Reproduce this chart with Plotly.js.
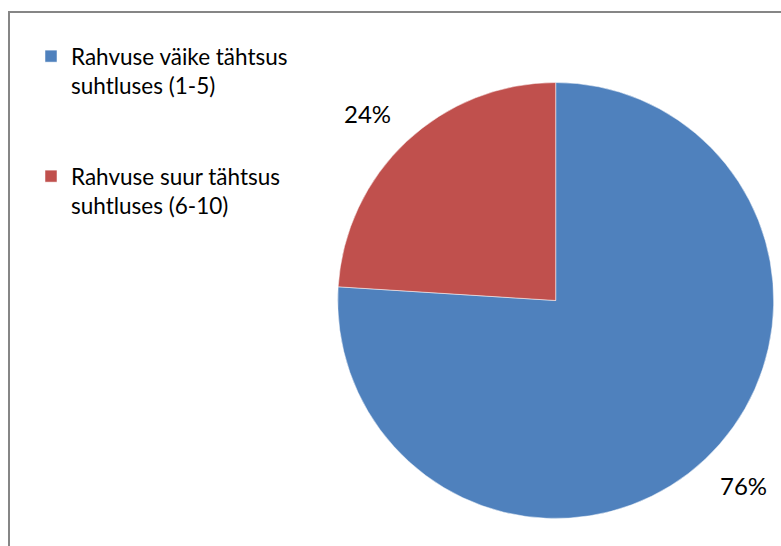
<!DOCTYPE html>
<html>
<head>
<meta charset="utf-8">
<script src="https://cdn.plot.ly/plotly-3.0.1.min.js"></script>
<style>html,body{margin:0;padding:0;background:#fff;}#chart{width:781px;height:546px;}</style>
</head>
<body>
<div id="chart"></div>
<script>
var categories = ["Rahvuse väike tähtsus<br>suhtluses (1-5)<br> <br> ", "Rahvuse suur tähtsus<br>suhtluses (6-10)"];
var values = [76, 24];
var colors = ["#4F81BD", "#C0504D"];

var W = 781, H = 546;
var dom = {x: [337.7 / W, 773.7 / W], y: [1 - 519 / H, 1 - 82 / H]};
var cx = (dom.x[0] + dom.x[1]) / 2 * W;
var cy = (1 - (dom.y[0] + dom.y[1]) / 2) * H;
var R = (dom.x[1] - dom.x[0]) * W / 2;

var total = values.reduce(function (a, b) { return a + b; }, 0);
var annotations = [];
var cum = 0;
var labelAngleOffset = -2.1 * Math.PI / 180;
for (var i = 0; i < values.length; i++) {
  var mid = (cum + values[i] / 2) / total * 2 * Math.PI + labelAngleOffset; // clockwise from 12 o'clock
  cum += values[i];
  var px = cx + 1.215 * R * Math.sin(mid);
  var py = cy - 1.215 * R * Math.cos(mid);
  annotations.push({
    xref: 'paper', yref: 'paper', x: px / W, y: 1 - py / H,
    xanchor: 'center', yanchor: 'middle', showarrow: false, yshift: 1,
    text: Math.round(values[i] / total * 100) + '%',
    font: {family: 'Lato, Arial, sans-serif', size: 24, color: '#000'}
  });
}

var trace = {
  type: 'pie',
  labels: categories,
  values: values,
  sort: false,
  direction: 'clockwise',
  rotation: 0,
  textinfo: 'none',
  hoverinfo: 'label+percent',
  marker: {colors: colors, line: {color: '#ffffff', width: 0.5}},
  domain: dom
};

var layout = {
  width: W, height: H,
  margin: {l: 0, r: 0, t: 0, b: 0},
  paper_bgcolor: '#ffffff',
  showlegend: true,
  legend: {
    x: 31 / W, y: 1 - 35 / H, xanchor: 'left', yanchor: 'top',
    valign: 'top',
    font: {family: 'Lato, Arial, sans-serif', size: 22.5, color: '#000'},
    bgcolor: 'rgba(0,0,0,0)'
  },
  annotations: annotations,
  shapes: [{
    type: 'path', xref: 'paper', yref: 'paper',
    path: 'M ' + (9 / W) + ' ' + (1 - (H + 5) / H) + ' L ' + (9 / W) + ' ' + (1 - 12 / H) + ' L ' + ((W + 5) / W) + ' ' + (1 - 12 / H),
    line: {color: '#868686', width: 2}
  }]
};

Plotly.newPlot('chart', [trace], layout, {displayModeBar: false, staticPlot: true});
</script>
</body>
</html>
